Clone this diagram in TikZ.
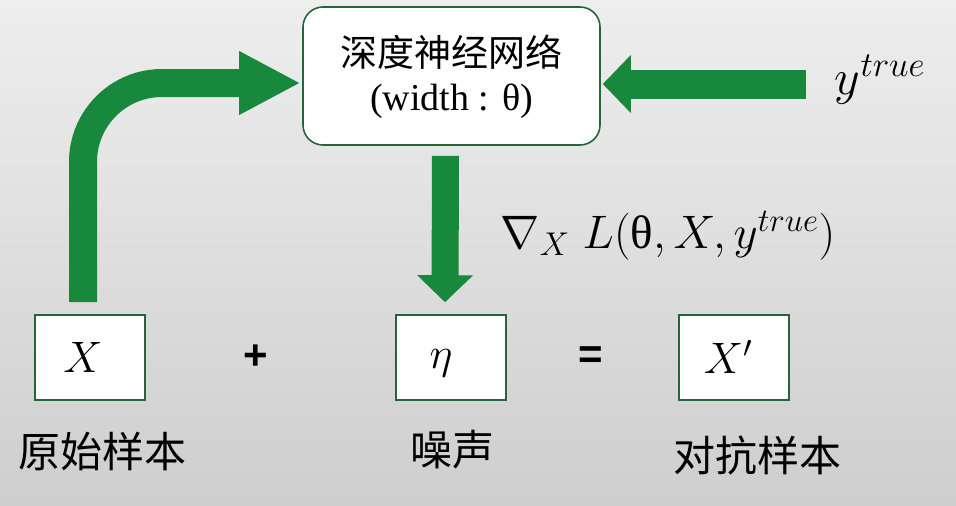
\RequirePackage{fix-cm}
\documentclass[tikz,border=0pt]{standalone}
\usepackage{fontspec}
\newfontfamily\cjk{Noto Sans CJK SC}
\newfontfamily\serifg{Liberation Serif}
\newfontfamily\sansg{Liberation Sans}
\usetikzlibrary{arrows.meta,calc}
\definecolor{agreen}{RGB}{24,137,60}
\definecolor{bgreen}{RGB}{38,100,58}
\definecolor{bgtop}{RGB}{238,238,238}
\definecolor{bgbot}{RGB}{206,206,206}
\begin{document}
\begin{tikzpicture}[x=1pt,y=-1pt,
  box/.style={draw=bgreen, line width=1.6pt, fill=white, minimum width=110pt, minimum height=85pt, inner sep=0pt},
  fatarrow/.style={agreen, line width=#1},
  lbl/.style={inner sep=0pt, font=\cjk\fontsize{42}{48}\selectfont},
  mth/.style={inner sep=0pt, font=\fontsize{44}{50}\selectfont},
  op/.style={inner sep=0pt, font=\sansg\bfseries\fontsize{42}{48}\selectfont}]
\shade[top color=bgtop, bottom color=bgbot] (0,0) rectangle (956,506);
\useasboundingbox (0,0) rectangle (956,506);

% network box
\node[box, rounded corners=20pt, minimum width=297pt, minimum height=138pt] (net) at (451.5,76) {};
\node[inner sep=0pt, font=\cjk\fontsize{37}{44}\selectfont] (netcn) at (451.5,52) {深度神经网络};
\node[inner sep=0pt, font=\serifg\fontsize{38}{44}\selectfont] (netw) at (451.5,101) {(width : θ)};

% sample boxes
\node[box] (X) at (90,357.5) {};
\node[box] (eta) at (451,357.5) {};
\node[box] (Xp) at (734,357.5) {};
\node[mth] (Xt) at (83,357) {$X$};
\node[mth] (etat) at (441,363) {$\eta$};
\node[mth] (Xpt) at (728,357) {$X'$};

% operators
\node[op] (plus) at (256,357) {+};
\node[op] (eq) at (591,358) {=};

% labels
\node[lbl] (l1) at (103,451) {原始样本};
\node[lbl] (l2) at (452,450) {噪声};
\node[lbl] (l3) at (757,455) {对抗样本};

% y true and gradient
\node[inner sep=0pt, font=\fontsize{50}{56}\selectfont] (ytrue) at (880,80) {$y^{true}$};
\node[inner sep=0pt, font=\fontsize{47}{54}\selectfont] (grad) at (668,236) {$\nabla_{X}\; L(\mbox{\serifg θ}, X, y^{true})$};

% arrows
\coordinate (ytail) at (806,84);
\coordinate (c1) at ($(X.north)+(-7,-12)$);
\coordinate (c2) at ($(net.west)+(-3,7)$);
\coordinate (d1) at ($(net.south)+(-6,10)$);
\coordinate (d2) at ($(eta.north)+(-6,-12)$);
\coordinate (r2) at ($(net.east)+(2,8)$);

\draw[fatarrow=28pt, rounded corners=79pt, -{Triangle[width=64pt,length=60pt,line width=0pt]}] (c1) |- (c2);
\draw[fatarrow=29pt, -{Triangle[width=58pt,length=28pt,line width=0pt]}] (ytail) -- (r2);
\draw[fatarrow=27pt, -{Triangle[width=56pt,length=27pt,line width=0pt]}] (d1) -- (d2);
\end{tikzpicture}
\end{document}
